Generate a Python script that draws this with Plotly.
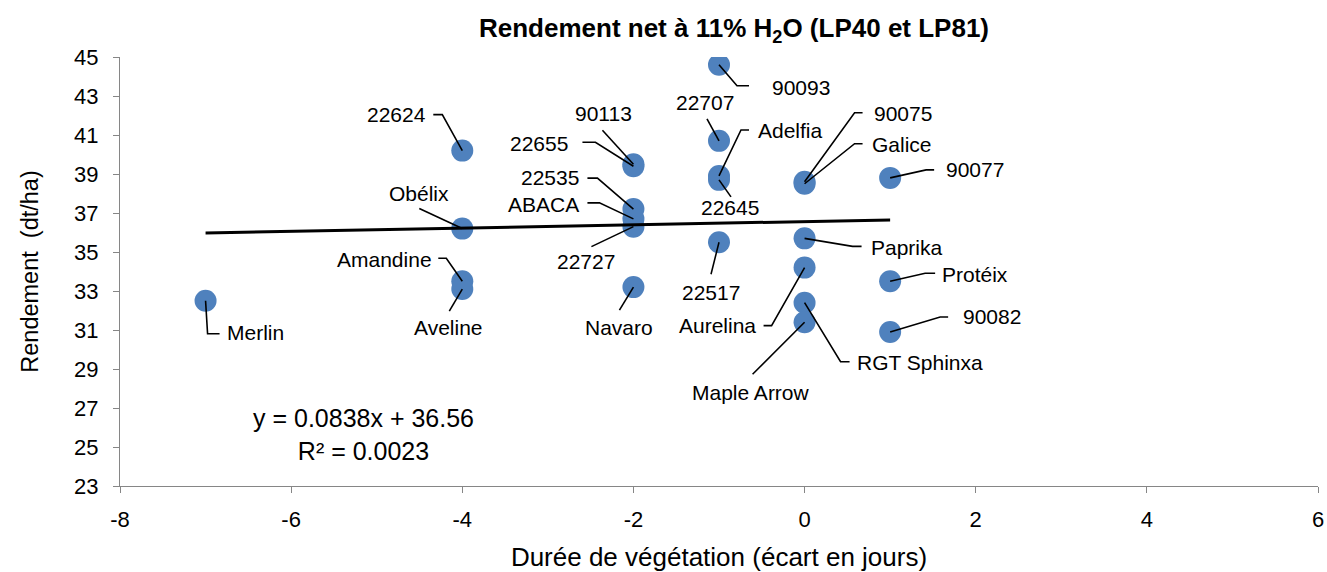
import plotly.graph_objects as go

# ---- data ----
varieties = ["Merlin", "22624", "Obélix", "Amandine", "Aveline",
             "90113", "22655", "22535", "ABACA", "22727", "Navaro",
             "90093", "22707", "Adelfia", "22645", "22517",
             "90075", "Galice", "Paprika", "Aurelina", "RGT Sphinxa", "Maple Arrow",
             "90077", "Protéix", "90082"]
ecart_jours = [-7, -4, -4, -4, -4,
               -2, -2, -2, -2, -2, -2,
               -1, -1, -1, -1, -1,
               0, 0, 0, 0, 0, 0,
               1, 1, 1]
rendement = [32.5, 40.2, 36.2, 33.5, 33.1,
             39.5, 39.4, 37.2, 36.7, 36.3, 33.2,
             44.6, 40.7, 38.9, 38.7, 35.5,
             38.6, 38.5, 35.7, 34.2, 32.4, 31.4,
             38.8, 33.5, 30.9]
trend_slope = 0.0838
trend_intercept = 36.56
r2 = 0.0023

x_ticks = [-8, -6, -4, -2, 0, 2, 4, 6]
y_ticks = [23, 25, 27, 29, 31, 33, 35, 37, 39, 41, 43, 45]

# ---- label layout (pixel offsets from the point, screen y down) ----
label_layout = {
    "Merlin":      ((50, 32),  [(2, 33), (14, 33)]),
    "22624":       ((-66, -36), [(-20, -36), (-29, -36)]),
    "Obélix":      ((-43, -35), [(-43, -20)]),
    "Amandine":    ((-78, -22), [(-16, -23), (-24, -23)]),
    "Aveline":     ((-14, 38),  [(-13, 22)]),
    "90113":       ((-30, -51), [(-31, -34)]),
    "22655":       ((-94, -23), [(-38, -24), (-51, -24)]),
    "22535":       ((-83, -32), [(-36, -31), (-46, -31)]),
    "ABACA":       ((-90, -14), [(-34, -16), (-46, -16)]),
    "22727":       ((-47, 35),  [(-42, 20)]),
    "Navaro":      ((-14, 40),  [(-14, 23)]),
    "90093":       ((82, 23),   [(18, 21), (30, 21)]),
    "22707":       ((-14, -38), [(-12, -22)]),
    "Adelfia":     ((71, -45),  [(22, -46), (30, -46)]),
    "22645":       ((11, 28),   [(12, 17)]),
    "22517":       ((-8, 50),   [(-8, 32)]),
    "90075":       ((98, -68),  [(50, -69), (58, -69)]),
    "Galice":      ((97, -39),  [(50, -40), (58, -40)]),
    "Paprika":     ((102, 9),   [(48, 8), (57, 8)]),
    "Aurelina":    ((-87, 58),  [(-33, 58), (-41, 58)]),
    "RGT Sphinxa": ((115, 60),  [(36, 59), (45, 59)]),
    "Maple Arrow": ((-54, 70),  [(-52, 52)]),
    "90077":       ((85, -8),   [(36, -8), (44, -8)]),
    "Protéix":     ((85, -7),   [(35, -8), (45, -8)]),
    "90082":       ((102, -15), [(50, -15), (58, -15)]),
}

FONT = "Liberation Sans, Arial, sans-serif"
AXIS_COLOR = "#868686"

fig = go.Figure()

fig.add_trace(go.Scatter(
    x=ecart_jours, y=rendement, mode="markers",
    marker=dict(size=22, color="#4F81BD", line=dict(width=0)),
    text=varieties, hoverinfo="text+x+y", showlegend=False,
))

x_line = [min(ecart_jours), max(ecart_jours)]
y_line = [trend_slope * v + trend_intercept for v in x_line]
fig.add_trace(go.Scatter(
    x=x_line, y=y_line, mode="lines",
    line=dict(color="black", width=3), showlegend=False, hoverinfo="skip",
))

annotations = []
shapes = []
for name, xv, yv in zip(varieties, ecart_jours, rendement):
    (tdx, tdy), pts = label_layout[name]
    annotations.append(dict(
        x=xv, y=yv, xref="x", yref="y", text=name, showarrow=False,
        xshift=tdx, yshift=-tdy, xanchor="center", yanchor="middle",
        font=dict(family=FONT, size=21, color="black"),
    ))
    path = "M0,0 " + " ".join(f"L{px},{-py}" for px, py in pts)
    shapes.append(dict(
        type="path", xref="x", yref="y", xsizemode="pixel", ysizemode="pixel",
        xanchor=xv, yanchor=yv, path=path,
        line=dict(color="black", width=1.6), layer="above",
    ))

eq_text = f"y = {trend_slope}x + {trend_intercept}<br>R² = {r2}"
annotations.append(dict(
    xref="paper", yref="paper", x=(363 - 120) / 1198, y=(486 - 434) / 429,
    text=eq_text, showarrow=False, align="center", xanchor="center", yanchor="middle",
    font=dict(family=FONT, size=25, color="black"),
))

fig.update_layout(
    width=1327, height=572,
    margin=dict(l=120, r=9, t=57, b=86),
    paper_bgcolor="white", plot_bgcolor="white",
    title=dict(
        text="<b>Rendement net à 11% H<sub>2</sub>O (LP40 et LP81)</b>",
        x=734 / 1327, xanchor="center", y=1 - 28 / 572, yanchor="middle",
        font=dict(family=FONT, size=26, color="black"),
    ),
    annotations=annotations,
    shapes=shapes,
    font=dict(family=FONT, size=20, color="black"),
)

fig.update_xaxes(
    range=[-8, 6], tickvals=x_ticks, ticktext=[str(v) for v in x_ticks],
    showgrid=False, zeroline=False, showline=True, linecolor=AXIS_COLOR, linewidth=1,
    ticks="outside", ticklen=6, tickcolor=AXIS_COLOR, ticklabelstandoff=8,
    tickfont=dict(family=FONT, size=22, color="black"), automargin=False,
    title=dict(text="Durée de végétation (écart en jours)", standoff=16,
               font=dict(family=FONT, size=26, color="black")),
)
fig.update_yaxes(
    range=[23, 45], tickvals=y_ticks, ticktext=[str(v) for v in y_ticks],
    showgrid=False, zeroline=False, showline=True, linecolor=AXIS_COLOR, linewidth=1,
    ticks="outside", ticklen=6, tickcolor=AXIS_COLOR, ticklabelstandoff=10,
    tickfont=dict(family=FONT, size=22, color="black"), automargin=False,
    title=dict(text="Rendement  (dt/ha)", standoff=28,
               font=dict(family=FONT, size=23.5, color="black")),
)

fig.write_html("out.html", config={"displayModeBar": False},
               post_script="document.body.style.margin='0px';")
